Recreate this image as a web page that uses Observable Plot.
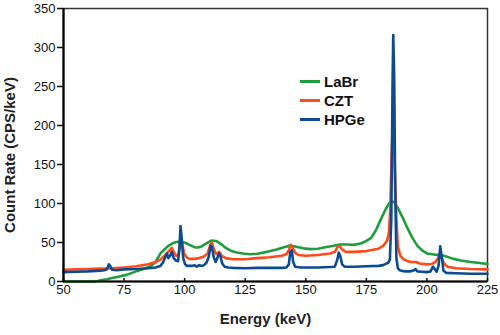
<!DOCTYPE html>
<html>
<head>
<meta charset="utf-8">
<script src="https://cdn.jsdelivr.net/npm/d3@7"></script>
<script src="https://cdn.jsdelivr.net/npm/@observablehq/plot@0.6"></script>
<style>
  html, body { margin: 0; padding: 0; background: #fff; }
  #wrap { position: relative; width: 500px; height: 335px; font-family: "Liberation Sans", Arial, sans-serif; }
  #legend { position: absolute; left: 300px; top: 72px; font-weight: bold; font-size: 15px; line-height: 19px; color: #111; }
  #legend .row { display: flex; align-items: center; }
  #legend .sw { width: 20px; height: 3px; margin-right: 4px; }
</style>
</head>
<body>
<div id="wrap"></div>
<script>
// ---- Data ----
const seriesNames = ["LaBr", "CZT", "HPGe"];
const seriesColors = ["#1e9e3a", "#ff4a1c", "#0c4a91"];

const labrE = [50,55,60,63,64,66,68,70,73,76,80,83,86,88,90,92,93,95,97,98.5,100,102,104,105.5,107,109,111,113,115,117,119,121,124,127,130,134,138,141,143.5,146,149,152,155,158,161,164,167,170,173,175,177,179,181,183,185,186.5,188,190,192,194,196,198,200,203,206,208,211,214,218,221,225];
const labrY = [0,0,0,0,0.5,2,3,4.5,6.5,8.5,13,16,19.5,25,36,42,45,49,51,50.5,50,47,44,43.5,45,49,52.5,52,48,43,39.5,37.5,36,35,35.5,38,41,44,46,44.5,42.5,41.5,42,44,45.5,47.5,47.5,47,49,52,56,66,80,93,103,102,94,82,68,56,46,40,36,34.5,34,32,29,27,25,24,22.5];

const cztE = [50,55,60,65,70,75,80,85,88,90,92,93.5,94.7,95.5,96.5,97.3,98,98.5,99,99.8,100.8,102,104,106,108,109.5,110.5,111.2,112,113,114.3,115.3,117,120,125,130,135,140,142,143,143.8,144.6,145.5,147,150,155,160,162,163.2,164,165,166.5,170,175,180,182,183.5,184.3,184.9,185.4,185.8,186.3,186.8,187.4,188,189,190.5,193,195.5,197,200,202,203.5,204.5,205.3,206,207,208.5,212,218,225];
const cztY = [15,15.5,16,16.5,17,18,19.5,22,25,28,34,39,43,38,33,34,45,55,48,36,31,29,29,30,32,36,46,50,42,35,38,33,30,28.5,28.5,30,31,33,35,40,47,43,37,34,33,34,36,38,45,45,41,38,38,39,42,46,52,62,95,160,190,185,140,80,45,33,28,25,25,23,22,22.5,25,30,35,31,23,19,17,16,15.5];

const hpgeE = [50,55,60,65,67,68,68.7,69.3,70,72,75,80,85,88,90,91,92,92.7,93.3,94,94.7,95.5,96.3,97.3,97.8,98.3,98.8,99.4,100.2,101,103,104,105,106,107,108,109,110,110.7,111.3,112,112.8,113.5,114.2,114.8,115.5,116.5,118,120,125,130,135,140,142,143,143.6,144.2,144.8,145.6,148,150,155,160,162,163,163.6,164.2,165,166,170,175,180,182,183,184,184.7,185.3,185.8,186.1,186.5,186.9,187.4,188,189,191,193,194.5,195.3,196,198,200,201.5,202.5,203.2,204,204.8,205.5,206.2,206.8,208,212,218,225];
const hpgeY = [12,12.5,13,14,14.5,16,22,20,15,14.5,15.5,16,17,18,20,24,31,36,30,33,38,30,27,26,40,71,55,30,22,20,20,21,19,21,20,21,24,32,46,44,31,25,30,36,32,23,19,18,17.5,17,17.5,17.5,17.5,18,22,38,40,25,19,18,18,18,18.5,19,28,37,33,22,19,19,19.5,20,21,22.5,24,28,80,250,316,260,120,30,17,14,13,13,14,16,13,12.5,12,13,19,16,12.5,20,45,30,14,11,10.5,10,10];

const xTicks = [50,75,100,125,150,175,200,225];
const yTicks = [0,50,100,150,200,250,300,350];
const xLabel = "Energy (keV)";
const yLabel = "Count Rate (CPS/keV)";

// ---- Build table ----
const rows = [];
[[labrE, labrY], [cztE, cztY], [hpgeE, hpgeY]].forEach(([E, Y], i) => {
  E.forEach((e, j) => rows.push({series: seriesNames[i], energy: e, count: Y[j]}));
});

const font = '"Liberation Sans", Arial, sans-serif';

const chart = Plot.plot({
  width: 500,
  height: 335,
  marginLeft: 63,
  marginRight: 13,
  marginTop: 8,
  marginBottom: 54,
  style: {fontFamily: font, background: "#fff", color: "#111"},
  x: {domain: [50, 225]},
  y: {domain: [0, 350]},
  color: {domain: seriesNames, range: seriesColors},
  marks: [
    Plot.frame({stroke: "#333", strokeWidth: 1.5}),
    Plot.line(rows, {x: "energy", y: "count", z: "series", stroke: "series", strokeWidth: 2.6, strokeLinejoin: "round"}),
    Plot.axisY({ticks: yTicks, tickSize: 6, tickPadding: 2, fontSize: 13, label: null, stroke: "#111", strokeWidth: 1.5}),
    // inward tick marks on the x axis
    Plot.axisX({ticks: xTicks, tickSize: 3, text: null, label: null, dy: -3, stroke: "#111", strokeWidth: 1.5}),
    // x tick labels hugging the axis
    Plot.axisX({ticks: xTicks, tickSize: 0, tickPadding: 3, fontSize: 13, label: null}),
    Plot.ruleX([50], {stroke: "#000", strokeWidth: 2.2}),
    Plot.ruleY([0], {stroke: "#000", strokeWidth: 2.2}),
    Plot.text([xLabel], {frameAnchor: "bottom", dy: 42, dx: -10, fontSize: 15, fontWeight: "bold", fill: "#222"}),
    Plot.text([yLabel], {frameAnchor: "left", textAnchor: "middle", dx: -53, dy: 10, rotate: -90, fontSize: 15, fontWeight: "bold", fill: "#222"})
  ]
});

const wrap = document.getElementById("wrap");
wrap.appendChild(chart);

const legend = document.createElement("div");
legend.id = "legend";
seriesNames.forEach((n, i) => {
  const row = document.createElement("div");
  row.className = "row";
  const sw = document.createElement("span");
  sw.className = "sw";
  sw.style.background = seriesColors[i];
  const t = document.createElement("span");
  t.textContent = n;
  row.appendChild(sw);
  row.appendChild(t);
  legend.appendChild(row);
});
wrap.appendChild(legend);
</script>
</body>
</html>
